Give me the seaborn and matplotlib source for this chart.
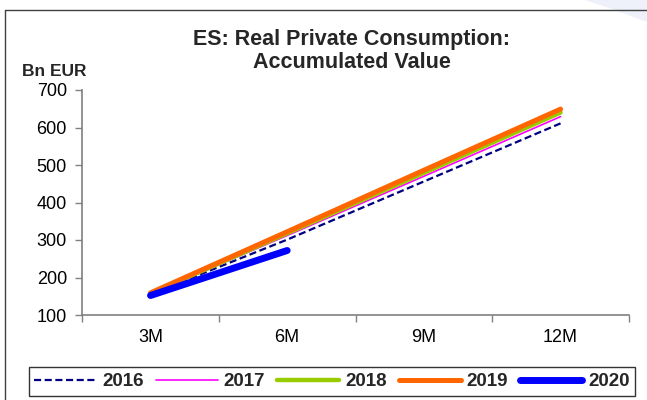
import matplotlib
matplotlib.use("Agg")
import matplotlib.pyplot as plt
from matplotlib.lines import Line2D
from matplotlib.patches import Polygon
import numpy as np
import pandas as pd
import seaborn as sns

# Accumulated real private consumption, Bn EUR
periods = ["3M", "6M", "9M", "12M"]
years = ["2016", "2017", "2018", "2019", "2020"]
values_2016 = [155, 301, 456, 611]
values_2017 = [156, 312, 470, 629]
values_2018 = [157, 318, 479, 640]
values_2019 = [159, 322, 486, 649]
values_2020 = [152, 272]
y_ticks = [100, 200, 300, 400, 500, 600, 700]

series = {
    "2016": values_2016,
    "2017": values_2017,
    "2018": values_2018,
    "2019": values_2019,
    "2020": values_2020,
}

rows = []
for yr, vals in series.items():
    for i, v in enumerate(vals):
        rows.append({"year": yr, "period": periods[i], "pos": i + 1, "value": v})
df = pd.DataFrame(rows)

styles = {
    "2016": dict(color="#000080", lw=1.6, ls=(0, (3.2, 1.6))),
    "2017": dict(color="#FF00FF", lw=1.2, ls="-"),
    "2018": dict(color="#99CC00", lw=3.2, ls="-"),
    "2019": dict(color="#FF6600", lw=3.6, ls="-"),
    "2020": dict(color="#0000FF", lw=5.0, ls="-"),
}

sns.set_theme(style="white")
plt.rcParams["font.family"] = ["Liberation Sans", "DejaVu Sans"]

fig = plt.figure(figsize=(6.47, 4.0), dpi=100)
ax = fig.add_axes([0.127, 0.2125, 0.845, 0.5625])

for yr in years:
    sub = df[df["year"] == yr]
    st = styles[yr]
    sns.lineplot(data=sub, x="pos", y="value", ax=ax, color=st["color"],
                 linewidth=st["lw"], linestyle=st["ls"], legend=False,
                 solid_capstyle="round", dash_capstyle="butt", sort=False)

gray = "#808080"
ax.set_xlim(0.5, len(periods) + 0.5)
ax.set_ylim(100, 700)
ax.set_yticks(y_ticks)
ax.set_yticklabels([str(t) for t in y_ticks], fontsize=13, color="black")
ax.set_xticks(np.arange(0.5, len(periods) + 1, 1.0))
ax.set_xticklabels([])
ax.set_xticks(np.arange(1, len(periods) + 1), minor=True)
ax.set_xticklabels(periods, minor=True, fontsize=13, color="black")
ax.tick_params(axis="x", which="major", direction="out", length=5, width=1, color=gray, bottom=True)
ax.tick_params(axis="x", which="minor", length=0, pad=10, bottom=True)
ax.tick_params(axis="y", direction="out", length=5, width=1, color=gray, left=True, pad=6)
ax.set_xlabel("")
ax.set_ylabel("")
for side in ["top", "right"]:
    ax.spines[side].set_visible(False)
for side in ["left", "bottom"]:
    ax.spines[side].set_color(gray)
    ax.spines[side].set_linewidth(1.2)
ax.grid(False)

fig.text(0.544, 0.872, "ES: Real Private Consumption:\nAccumulated Value",
         ha="center", va="center", fontsize=15.5, fontweight="bold", linespacing=1.1)
fig.text(0.034, 0.82, "Bn EUR", ha="left", va="center", fontsize=12.5, fontweight="bold")

handles = [Line2D([0], [0], color=styles[y]["color"], lw=styles[y]["lw"],
                  ls=styles[y]["ls"], solid_capstyle="round") for y in years]
leg = fig.legend(handles, years, loc="center", bbox_to_anchor=(0.513, 0.046), ncol=5,
                 frameon=True, fancybox=False, handlelength=3.3, handletextpad=0.32,
                 columnspacing=0.64, borderpad=0.3, borderaxespad=0.0,
                 prop={"weight": "bold", "size": 13.5})
leg.get_frame().set_edgecolor("black")
leg.get_frame().set_linewidth(1.0)

# outer frame and corner decoration
fig.add_artist(Polygon([[585 / 647, 1.0], [1.0, 1.0], [1.0, 1 - 22 / 400], [615 / 647, 1 - 10 / 400]],
                       closed=True, transform=fig.transFigure, facecolor="#eef0fa",
                       edgecolor="none"))
fig.add_artist(Line2D([5 / 647, 1.0], [1 - 10 / 400, 1 - 10 / 400], transform=fig.transFigure,
                      color="#404040", lw=1.0))
fig.add_artist(Line2D([5 / 647, 5 / 647], [0, 1 - 10 / 400], transform=fig.transFigure,
                      color="#404040", lw=1.0))

fig.savefig("out.png", dpi=100, facecolor="white")
